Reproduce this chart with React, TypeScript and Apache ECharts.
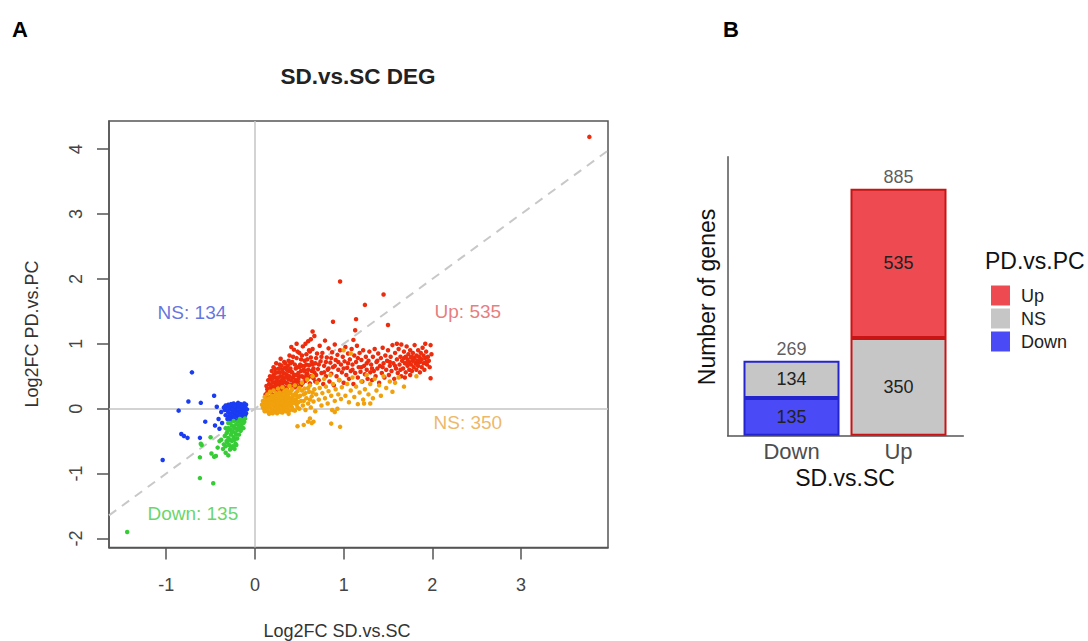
import React, { useEffect, useRef } from 'react';
import * as echarts from 'echarts';

// ---------- Panel A data (Log2FC SD.vs.SC, Log2FC PD.vs.PC) ----------
const upPoints = [
  [0.12,0.22],[0.14,0.30],[0.15,0.18],[0.16,0.38],[0.17,0.26],[0.18,0.45],[0.19,0.33],[0.2,0.21],[0.21,0.52],[0.22,0.40],
  [0.22,0.29],[0.23,0.61],[0.24,0.35],[0.25,0.47],[0.25,0.24],[0.26,0.56],[0.27,0.31],[0.28,0.42],[0.28,0.68],[0.29,0.5],
  [0.3,0.27],[0.3,0.37],[0.31,0.6],[0.32,0.45],[0.33,0.33],[0.33,0.72],[0.34,0.54],[0.35,0.4],
  [0.13,0.35],[0.15,0.44],[0.17,0.5],[0.19,0.58],[0.2,0.41],[0.21,0.64],[0.23,0.48],[0.24,0.7],[0.26,0.38],[0.27,0.62],
  [0.29,0.77],[0.31,0.49],[0.32,0.28],[0.34,0.63],[0.36,0.52],
  [0.36,0.31],[0.37,0.66],[0.38,0.45],[0.39,0.82],[0.4,0.37],[0.41,0.57],[0.42,0.72],[0.43,0.48],[0.44,0.91],[0.45,0.33],
  [0.46,0.62],[0.47,0.78],[0.48,0.42],[0.49,0.55],[0.5,0.86],[0.51,0.68],[0.52,0.36],[0.53,0.5],[0.54,0.96],[0.55,0.6],
  [0.56,0.74],[0.57,0.43],[0.58,0.84],[0.59,0.54],[0.6,1.04],[0.61,0.67],[0.62,0.39],[0.63,0.79],[0.64,0.58],[0.65,0.92],
  [0.66,0.47],[0.67,1.12],[0.68,0.7],[0.69,0.52],[0.7,0.85],
  [0.38,0.58],[0.4,0.7],[0.42,0.35],[0.44,0.52],[0.46,0.44],[0.48,0.64],[0.5,0.5],[0.52,0.76],[0.54,0.4],[0.56,0.58],
  [0.58,0.68],[0.6,0.48],[0.62,0.88],[0.64,0.72],[0.66,0.62],[0.68,0.42],[0.41,0.95],[0.47,1.0],[0.53,0.66],[0.57,1.0],[0.63,1.07],
  [0.71,0.61],[0.72,0.44],[0.73,0.97],[0.74,0.73],[0.75,0.55],[0.76,0.86],[0.77,0.38],[0.78,0.66],[0.79,1.05],[0.8,0.5],
  [0.81,0.79],[0.82,0.6],[0.83,0.93],[0.84,0.42],[0.85,0.71],[0.86,0.54],[0.87,0.87],[0.88,0.64],[0.89,0.36],[0.9,0.99],
  [0.91,0.75],[0.92,0.5],[0.93,0.83],[0.94,0.6],[0.95,0.44],[0.96,0.9],[0.97,0.68],[0.98,0.56],[0.99,0.8],[1.0,0.4],
  [1.01,0.73],[1.02,0.95],[1.03,0.52],[1.04,0.63],[1.05,0.85],[1.06,0.46],[1.07,0.76],[1.08,0.58],[1.09,0.92],[1.1,0.68],
  [1.11,0.38],[1.12,0.82],[1.13,0.55],[1.14,0.72],[1.15,0.97],[1.16,0.48],[1.17,0.64],[1.18,0.86],[1.19,0.57],[1.2,0.75],
  [1.21,0.42],[1.22,0.9],[1.23,0.66],[1.24,0.53],[1.25,0.8],[1.26,0.6],[1.27,0.46],[1.28,0.74],[1.29,0.88],[1.3,0.56],
  [1.31,0.68],[1.32,0.44],[1.33,0.8],[1.34,0.58],[1.35,0.92],[1.36,0.5],[1.37,0.72],[1.38,0.62],[1.39,0.85],[1.4,0.4],
  [1.41,0.66],[1.42,0.78],[1.43,0.55],[1.44,0.94],[1.45,0.7],[1.46,0.48],[1.47,0.82],[1.48,0.6],[1.49,0.74],[1.5,0.9],
  [1.51,0.52],[1.52,0.66],[1.53,0.8],[1.54,0.58],[1.55,0.98],[1.56,0.7],[1.57,0.46],[1.58,0.86],[1.59,0.62],[1.6,0.76],
  [1.61,0.55],[1.62,0.92],[1.63,0.68],[1.64,0.8],[1.65,0.5],
  [1.66,0.74],[1.67,0.62],[1.68,0.88],[1.69,0.7],[1.7,0.8],[1.7,0.56],[1.71,0.96],[1.72,0.66],[1.72,0.76],[1.73,0.84],
  [1.74,0.6],[1.74,0.72],[1.75,0.9],[1.76,0.68],[1.76,0.79],[1.77,0.58],[1.78,0.74],[1.78,0.86],[1.79,0.64],[1.8,0.98],
  [1.8,0.78],[1.81,0.7],[1.82,0.82],[1.82,0.6],[1.83,0.74],[1.84,0.9],[1.84,0.66],[1.85,0.8],[1.86,0.72],[1.86,0.56],
  [1.87,0.86],[1.88,0.76],[1.88,0.64],[1.89,0.94],[1.9,0.7],[1.9,0.82],[1.91,0.6],[1.92,0.78],[1.93,0.88],[1.94,0.68],
  [1.95,0.8],[1.96,0.74],[1.97,0.64],[1.98,0.98],[1.99,0.84],[1.98,0.47],[1.69,0.48],[1.75,0.52],[1.6,1.0],[1.65,0.99],[1.92,1.0],
  [0.14,0.25],[0.16,0.31],[0.18,0.27],[0.18,0.36],[0.2,0.3],[0.2,0.47],[0.22,0.34],[0.23,0.55],[0.24,0.42],[0.25,0.3],
  [0.26,0.48],[0.27,0.4],[0.28,0.56],[0.29,0.35],[0.3,0.44],[0.3,0.66],[0.31,0.39],[0.32,0.55],[0.33,0.42],[0.34,0.7],
  [0.35,0.48],[0.35,0.32],[0.36,0.6],[0.37,0.38],[0.38,0.74],[0.39,0.5],[0.4,0.62],[0.41,0.44],[0.42,0.56],[0.43,0.8],
  [0.44,0.4],[0.45,0.68],[0.46,0.52],[0.47,0.36],[0.48,0.88],[0.49,0.46],[0.5,0.64],[0.51,0.4],[0.52,0.58],[0.53,0.82],
  [0.55,0.48],[0.56,0.66],[0.58,0.52],[0.59,0.76],[0.6,0.6],[0.61,0.9],[0.63,0.5],[0.65,0.68],[0.67,0.56],[0.69,0.78],
  [0.72,0.68],[0.75,0.8],[0.78,0.56],[0.8,0.72],[0.83,0.62],[0.86,0.78],[0.9,0.66],[0.94,0.72],[1.0,0.62],[1.05,0.7],
  [1.1,0.6],[1.16,0.78],[1.2,0.64],[1.26,0.7],[1.32,0.62],[1.38,0.74],[1.44,0.64],[1.52,0.72],[1.58,0.66],[1.64,0.6],
  [1.68,0.78],[1.71,0.7],[1.77,0.8],[1.83,0.68],[1.87,0.76],[1.93,0.72],
  [0.96,1.96],[1.45,1.76],[1.24,1.6],[0.88,1.34],[1.14,1.38],[1.5,1.29],[1.13,1.21],[0.65,1.19],[1.11,1.06],[3.77,4.19]
];

const upNsPoints = [
  [0.08,0.06],[0.09,0.12],[0.1,0.0],[0.11,0.18],[0.12,0.08],[0.12,-0.03],[0.13,0.14],[0.14,0.04],[0.14,0.22],[0.15,0.1],
  [0.15,-0.05],[0.16,0.16],[0.17,0.02],[0.17,0.26],[0.18,0.09],[0.18,-0.06],[0.19,0.2],[0.2,0.05],[0.2,0.13],[0.21,-0.02],
  [0.21,0.28],[0.22,0.1],[0.23,0.18],[0.23,0.0],[0.24,0.07],[0.24,0.24],[0.25,0.14],[0.25,-0.07],[0.26,0.03],[0.26,0.31],
  [0.27,0.19],[0.27,0.09],[0.28,-0.03],[0.28,0.25],[0.29,0.12],[0.3,0.04],[0.3,0.2],[0.31,0.33],[0.31,-0.06],[0.32,0.15],
  [0.32,0.08],[0.33,0.26],[0.33,0.0],[0.34,0.18],[0.35,0.1],[0.35,-0.04],[0.36,0.29],[0.36,0.05],[0.37,0.2],[0.38,0.13],
  [0.38,-0.08],[0.39,0.35],[0.4,0.07],[0.4,0.24],[0.41,0.16],[0.42,0.01],[0.42,0.3],[0.43,0.11],[0.44,0.21],[0.45,-0.03],
  [0.45,0.36],[0.46,0.14],[0.47,0.06],[0.48,0.27],[0.49,0.18],[0.5,0.0],[0.5,0.32],
  [0.1,0.09],[0.13,0.01],[0.16,0.07],[0.19,0.11],[0.22,0.04],[0.25,0.08],[0.27,0.0],[0.29,0.06],[0.31,0.11],[0.34,0.06],
  [0.37,0.02],[0.39,0.1],[0.22,0.16],[0.18,0.14],[0.26,0.22],[0.3,0.14],[0.35,0.22],[0.41,0.04],[0.44,0.09],[0.47,0.2],
  [0.09,0.02],[0.11,0.05],[0.11,-0.04],[0.13,0.1],[0.14,-0.02],[0.15,0.14],[0.16,0.02],[0.16,-0.08],[0.17,0.11],[0.18,0.04],
  [0.19,-0.03],[0.19,0.16],[0.2,0.09],[0.2,-0.07],[0.21,0.07],[0.21,0.2],[0.22,-0.05],[0.23,0.12],[0.24,0.02],[0.24,0.16],
  [0.25,0.2],[0.26,-0.03],[0.26,0.12],[0.27,0.05],[0.28,0.16],[0.28,0.08],[0.29,-0.05],[0.29,0.22],[0.3,0.09],[0.31,0.02],
  [0.31,0.17],[0.32,-0.02],[0.32,0.22],[0.33,0.12],[0.34,0.02],[0.34,0.28],[0.35,0.15],[0.36,-0.01],[0.36,0.11],[0.37,0.26],
  [0.38,0.06],[0.38,0.18],[0.39,-0.03],[0.4,0.14],[0.41,0.28],[0.42,0.09],[0.43,0.2],[0.43,-0.02],[0.44,0.14],[0.46,0.24],
  [0.47,0.1],[0.48,0.02],[0.49,0.1],[0.51,0.2],[0.53,0.28],[0.55,0.12],[0.57,0.24],[0.6,0.32],[0.62,0.14],[0.65,0.25],
  [0.52,0.12],[0.53,0.4],[0.54,0.05],[0.55,0.22],[0.56,0.31],[0.57,-0.02],[0.58,0.16],[0.59,0.45],[0.6,0.08],[0.61,0.26],
  [0.62,0.36],[0.63,0.02],[0.64,0.19],[0.65,0.5],[0.66,0.11],[0.67,0.3],[0.68,-0.04],[0.69,0.22],[0.7,0.4],[0.72,0.14],
  [0.73,0.32],[0.75,0.05],[0.76,0.24],[0.78,0.46],[0.79,0.16],[0.8,0.34],[0.82,0.08],[0.83,0.27],[0.85,0.52],[0.86,0.2],
  [0.87,-0.02],[0.88,0.38],[0.9,0.12],[0.91,0.3],[0.93,0.0],[0.94,0.22],[0.95,0.44],[0.97,0.15],[0.98,0.33],[1.0,0.9],[1.08,0.85],
  [1.02,0.2],[1.04,0.38],[1.06,0.1],[1.08,0.28],[1.1,0.48],[1.12,0.18],[1.14,0.34],[1.16,0.07],[1.18,0.25],[1.2,0.42],
  [1.22,0.14],[1.24,0.3],[1.26,0.52],[1.28,0.22],[1.3,0.38],[1.33,0.16],[1.35,0.46],[1.37,0.28],[1.4,0.36],[1.42,0.2],
  [1.45,0.5],[1.48,0.32],[1.52,0.42],[1.55,0.26],[1.58,0.4],[1.62,0.48],[1.68,0.34],[1.82,0.5],
  [0.48,-0.27],[0.62,-0.15],[0.6,-0.2],[0.66,-0.2],[0.86,-0.23],[0.96,-0.28],[0.9,-0.05],[1.23,0.08],[1.3,0.08],[0.55,-0.25],[0.64,-0.22]
];

const downNsPoints = [
  [-0.34,-0.02],[-0.33,-0.1],[-0.32,0.03],[-0.31,-0.16],[-0.3,-0.06],[-0.3,0.06],[-0.29,-0.12],[-0.28,0.0],[-0.27,-0.18],[-0.27,-0.07],
  [-0.26,0.04],[-0.25,-0.13],[-0.25,-0.02],[-0.24,0.08],[-0.23,-0.09],[-0.23,-0.17],[-0.22,0.01],[-0.21,-0.05],[-0.21,0.06],[-0.2,-0.12],
  [-0.19,-0.02],[-0.19,0.09],[-0.18,-0.08],[-0.18,-0.15],[-0.17,0.03],[-0.16,-0.04],[-0.16,0.07],[-0.15,-0.1],[-0.14,0.0],[-0.14,-0.06],
  [-0.13,0.05],[-0.12,-0.03],[-0.12,-0.12],[-0.11,0.02],[-0.1,-0.07],[-0.1,0.06],[-0.09,-0.01],[-0.24,-0.04],[-0.2,0.03],[-0.16,-0.13],
  [-0.22,-0.1],[-0.28,-0.09],[-0.13,-0.08],[-0.19,-0.18],[-0.26,-0.15],
  [-0.33,0.05],[-0.31,-0.03],[-0.29,0.03],[-0.27,0.07],[-0.25,0.0],[-0.23,0.04],[-0.22,-0.06],[-0.2,-0.08],[-0.18,0.0],[-0.17,-0.11],
  [-0.15,0.04],[-0.14,-0.14],[-0.12,0.08],[-0.11,-0.1],[-0.29,-0.15],[-0.24,-0.12],
  [-0.71,0.56],[-0.75,0.11],[-0.61,0.09],[-0.46,0.2],[-0.86,-0.03],[-0.43,0.03],[-0.35,0.02],[-0.56,-0.2],[-0.41,-0.16],[-0.45,-0.26],
  [-0.4,-0.31],[-0.83,-0.39],[-0.8,-0.42],[-0.76,-0.45],[-0.62,-0.45],[-1.04,-0.79],[-0.38,-0.05],[-0.37,-0.22]
];

const downPoints = [
  [-0.34,-0.42],[-0.33,-0.3],[-0.32,-0.5],[-0.31,-0.36],[-0.3,-0.22],[-0.3,-0.45],[-0.29,-0.56],[-0.28,-0.32],[-0.27,-0.4],[-0.26,-0.26],
  [-0.26,-0.5],[-0.25,-0.35],[-0.24,-0.19],[-0.24,-0.44],[-0.23,-0.3],[-0.22,-0.54],[-0.22,-0.38],[-0.21,-0.24],[-0.2,-0.33],[-0.2,-0.46],
  [-0.19,-0.2],[-0.18,-0.28],[-0.18,-0.4],[-0.17,-0.16],[-0.16,-0.34],[-0.15,-0.24],[-0.14,-0.18],[-0.13,-0.3],[-0.12,-0.2],[-0.11,-0.15],
  [-0.27,-0.6],[-0.23,-0.62],[-0.35,-0.55],[-0.38,-0.48],[-0.36,-0.62],[-0.4,-0.5],[-0.28,-0.22],[-0.25,-0.58],
  [-0.32,-0.38],[-0.3,-0.3],[-0.28,-0.48],[-0.26,-0.36],[-0.24,-0.28],[-0.23,-0.48],[-0.21,-0.4],[-0.19,-0.3],[-0.17,-0.26],[-0.16,-0.22],
  [-0.15,-0.3],[-0.13,-0.22],[-0.21,-0.56],[-0.31,-0.52],[-0.33,-0.58],
  [-0.5,-0.44],[-0.6,-0.56],[-0.62,-0.75],[-0.49,-0.69],[-0.44,-0.73],[-0.28,-0.63],[-0.25,-0.6],[-0.62,-1.07],[-0.47,-1.15],
  [-1.44,-1.9],[-0.46,-0.74],[-0.61,-0.54],[-0.42,-0.6],[-0.33,-0.68],[-0.3,-0.72]
];

const groupLabels = ['NS: 134', 'Up: 535', 'NS: 350', 'Down: 135'];
const groupLabelPos = [[-0.71, 1.49], [2.4, 1.5], [2.4, -0.22], [-0.7, -1.62]];
const groupLabelColors = ['#3b52d6', '#e25a5a', '#e9a540', '#3fcb3f'];
const xTicks = [-1, 0, 1, 2, 3];
const yTicks = [-2, -1, 0, 1, 2, 3, 4];
const xRange = [-1.645, 3.98];
const yRange = [-2.14, 4.435];

// ---------- Panel B data ----------
const barCategories = ['Down', 'Up'];
const downCounts = [135, null];
const nsCounts = [134, 350];
const upCounts = [null, 535];
const totals = [269, 885];
const barBorders = ['#2424cc', '#c81414'];

const FONT = 'Liberation Sans, Arial, Helvetica, sans-serif';

function barSeries(name: string, counts: (number | null)[], color: string) {
  return {
    name,
    type: 'bar',
    xAxisIndex: 1,
    yAxisIndex: 1,
    stack: 'total',
    barWidth: 96,
    itemStyle: { color, borderWidth: 0 },
    label: {
      show: true,
      position: 'inside',
      fontSize: 18,
      fontFamily: FONT,
      color: '#222',
    },
    data: counts.map((v, i) =>
      v == null
        ? '-'
        : { value: v, itemStyle: { borderColor: barBorders[i], borderWidth: 2 } }
    ),
  };
}

function scatterSeries(name: string, pts: number[][], color: string) {
  return {
    name,
    type: 'scatter',
    xAxisIndex: 0,
    yAxisIndex: 0,
    symbolSize: 4.5,
    silent: true,
    z: 3,
    itemStyle: { color, opacity: 1 },
    data: pts,
  };
}

const hiddenAxisParts = {
  splitLine: { show: false },
  axisTick: { show: false },
  axisLabel: { show: false },
};

export default function App() {
  const ref = useRef<HTMLDivElement>(null);
  useEffect(() => {
    if (!ref.current) return;
    const chart = echarts.init(ref.current, undefined, { renderer: 'svg' });
    const option: any = {
      animation: false,
      backgroundColor: '#ffffff',
      grid: [
        { left: 109, top: 121, width: 499, height: 426.5, show: true, borderColor: '#555', borderWidth: 1.5, backgroundColor: 'transparent' },
        { left: 738, top: 156.7, width: 214, height: 279 },
        { left: 727.7, top: 156.7, width: 235.6, height: 279 },
      ],
      xAxis: [
        {
          type: 'value', gridIndex: 0, min: xRange[0], max: xRange[1],
          splitLine: { show: false },
          axisLine: { show: true, onZero: false, lineStyle: { color: '#555', width: 1.5 } },
          axisTick: { show: true, length: 12, customValues: xTicks, lineStyle: { color: '#555', width: 1.5 } },
          axisLabel: { customValues: xTicks, fontSize: 18, color: '#444', margin: 28, fontFamily: FONT },
        },
        {
          type: 'category', gridIndex: 1, data: barCategories,
          splitLine: { show: false },
          axisLine: { show: false },
          axisTick: { show: false },
          axisLabel: { fontSize: 22, color: '#4d4d4d', margin: 5, fontFamily: FONT },
        },
        {
          type: 'value', gridIndex: 2, min: 0, max: 1,
          ...hiddenAxisParts,
          axisLine: { show: true, onZero: false, lineStyle: { color: '#555', width: 1.5 } },
        },
      ],
      yAxis: [
        {
          type: 'value', gridIndex: 0, min: yRange[0], max: yRange[1],
          splitLine: { show: false },
          axisLine: { show: true, onZero: false, lineStyle: { color: '#555', width: 1.5 } },
          axisTick: { show: true, length: 12, customValues: yTicks, lineStyle: { color: '#555', width: 1.5 } },
          axisLabel: { customValues: yTicks, rotate: 90, fontSize: 18, color: '#444', margin: 24, fontFamily: FONT },
        },
        {
          type: 'value', gridIndex: 1, min: 0, max: 1000,
          ...hiddenAxisParts,
          axisLine: { show: false },
        },
        {
          type: 'value', gridIndex: 2, min: 0, max: 1,
          ...hiddenAxisParts,
          axisLine: { show: true, onZero: false, lineStyle: { color: '#555', width: 1.5 } },
        },
      ],
      legend: {
        data: ['Up', 'NS', 'Down'],
        orient: 'vertical',
        left: 986,
        top: 280.5,
        itemWidth: 19,
        itemHeight: 20,
        itemGap: 3,
        icon: 'rect',
        selectedMode: false,
        itemStyle: { borderWidth: 0 },
        textStyle: { fontSize: 18, color: '#222', fontFamily: FONT, padding: [0, 0, 0, 6] },
      },
      series: [
        {
          name: 'refLines',
          type: 'scatter',
          xAxisIndex: 0,
          yAxisIndex: 0,
          data: [],
          silent: true,
          markLine: {
            silent: true,
            z: 1,
            symbol: 'none',
            label: { show: false },
            data: [
              { xAxis: 0, lineStyle: { color: '#c4c4c4', type: 'solid', width: 1.5 } },
              { yAxis: 0, lineStyle: { color: '#c4c4c4', type: 'solid', width: 1.5 } },
              [
                { coord: [xRange[0], xRange[0]], lineStyle: { color: '#c8c8c8', type: [9, 7], width: 2 } },
                { coord: [xRange[1], xRange[1]] },
              ],
            ],
          },
        },
        scatterSeries('Up/Up', upPoints, '#ec2c0c'),
        scatterSeries('Up/NS', upNsPoints, '#f0a10c'),
        scatterSeries('Down/NS', downNsPoints, '#1a3cf2'),
        scatterSeries('Down/Down', downPoints, '#36cc36'),
        {
          name: 'groupLabels',
          type: 'scatter',
          xAxisIndex: 0,
          yAxisIndex: 0,
          symbolSize: 0,
          silent: true,
          z: 4,
          label: { show: true, position: 'inside', formatter: '{b}', fontSize: 19, fontFamily: FONT },
          data: groupLabels.map((t, i) => ({ name: t, value: groupLabelPos[i], label: { color: groupLabelColors[i] } })),
        },
        barSeries('Down', downCounts, '#4a4af6'),
        barSeries('NS', nsCounts, '#c6c6c6'),
        barSeries('Up', upCounts, '#ee4a52'),
        {
          name: 'totals',
          type: 'scatter',
          xAxisIndex: 1,
          yAxisIndex: 1,
          symbolSize: 0,
          silent: true,
          label: {
            show: true, position: 'top', distance: 3, fontSize: 18, color: '#333', fontFamily: FONT,
            formatter: (p: any) => String(p.value),
          },
          data: totals,
        },
      ],
      graphic: [
        { type: 'text', x: 20, y: 29, style: { text: 'A', fontSize: 22, fontWeight: 'bold', fontFamily: FONT, fill: '#000', textAlign: 'center', textVerticalAlign: 'middle' } },
        { type: 'text', x: 731, y: 29, style: { text: 'B', fontSize: 22, fontWeight: 'bold', fontFamily: FONT, fill: '#000', textAlign: 'center', textVerticalAlign: 'middle' } },
        { type: 'text', x: 358, y: 76, style: { text: 'SD.vs.SC DEG', fontSize: 22.5, fontWeight: 'bold', fontFamily: FONT, fill: '#222', textAlign: 'center', textVerticalAlign: 'middle' } },
        { type: 'text', x: 337, y: 631, style: { text: 'Log2FC SD.vs.SC', fontSize: 18, fontFamily: FONT, fill: '#333', textAlign: 'center', textVerticalAlign: 'middle' } },
        { type: 'text', x: 32, y: 334, rotation: Math.PI / 2, style: { text: 'Log2FC PD.vs.PC', fontSize: 18, fontFamily: FONT, fill: '#333', textAlign: 'center', textVerticalAlign: 'middle' } },
        { type: 'text', x: 707, y: 297, rotation: Math.PI / 2, style: { text: 'Number of genes', fontSize: 23, fontFamily: FONT, fill: '#111', textAlign: 'center', textVerticalAlign: 'middle' } },
        { type: 'text', x: 845, y: 478, style: { text: 'SD.vs.SC', fontSize: 23, fontFamily: FONT, fill: '#111', textAlign: 'center', textVerticalAlign: 'middle' } },
        { type: 'text', x: 985, y: 261, style: { text: 'PD.vs.PC', fontSize: 23, fontFamily: FONT, fill: '#111', textAlign: 'left', textVerticalAlign: 'middle' } },
      ],
    };
    chart.setOption(option);
    return () => chart.dispose();
  }, []);
  return (
    <div
      ref={ref}
      style={{ position: 'fixed', left: 0, top: 0, width: 1088, height: 641, background: '#fff' }}
    />
  );
}
